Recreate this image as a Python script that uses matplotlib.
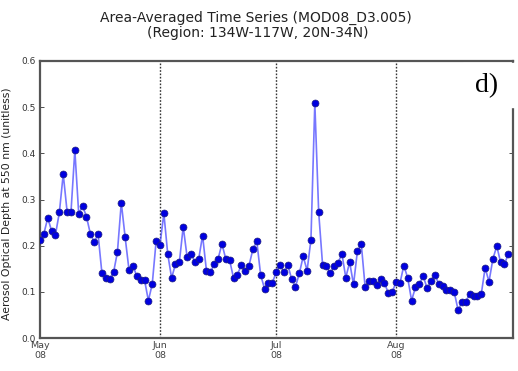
"""Area-averaged aerosol optical depth time series, May-Aug 2008 (panel d)."""

import datetime as dt

import matplotlib

matplotlib.use("Agg")
import matplotlib.pyplot as plt
from matplotlib.patches import Rectangle

# daily values, May 1 2008 onwards
may = [0.213, 0.226, 0.260, 0.232, 0.224, 0.272, 0.355, 0.274, 0.272, 0.407,
       0.269, 0.286, 0.263, 0.226, 0.208, 0.225, 0.140, 0.131, 0.127, 0.142,
       0.186, 0.293, 0.218, 0.147, 0.157, 0.134, 0.126, 0.126, 0.081, 0.117,
       0.210]
jun = [0.202, 0.270, 0.182, 0.130, 0.160, 0.164, 0.241, 0.176, 0.183, 0.165,
       0.171, 0.222, 0.146, 0.142, 0.160, 0.171, 0.204, 0.171, 0.168, 0.130,
       0.137, 0.158, 0.146, 0.157, 0.192, 0.210, 0.137, 0.107, 0.119, 0.119]
jul = [0.142, 0.159, 0.142, 0.159, 0.128, 0.111, 0.140, 0.177, 0.146, 0.213,
       0.509, 0.272, 0.159, 0.155, 0.140, 0.157, 0.163, 0.182, 0.131, 0.164,
       0.116, 0.188, 0.204, 0.110, 0.124, 0.124, 0.115, 0.128, 0.119, 0.097,
       0.099]
aug = [0.122, 0.119, 0.157, 0.130, 0.081, 0.110, 0.117, 0.134, 0.108, 0.124,
       0.137, 0.118, 0.112, 0.103, 0.103, 0.100, 0.061, 0.077, 0.079, 0.095,
       0.092, 0.090, 0.095, 0.152, 0.122, 0.171, 0.199, 0.164, 0.160, 0.182]

aod = may + jun + jul + aug
start = dt.datetime(2008, 5, 1)
dates = [start + dt.timedelta(days=i) for i in range(len(aod))]

month_ticks = [dt.datetime(2008, m, 1) for m in (5, 6, 7, 8)]
month_labels = ["May\n08", "Jun\n08", "Jul\n08", "Aug\n08"]
y_ticks = [0.0, 0.1, 0.2, 0.3, 0.4, 0.5, 0.6]

W, H = 518, 371
fig = plt.figure(figsize=(W / 100, H / 100), dpi=100)
ax = fig.add_axes([40 / W, 33 / H, 473 / W, 277 / H])

ax.plot(dates, aod, "-", color="#4a4aff", lw=1.2, alpha=0.75, zorder=2)
ax.plot(dates, aod, "o", color="#0000e0", ms=5, mec="#202080", mew=0.5,
        zorder=3)

ax.set_ylim(0, 0.6)
ax.set_xlim(start, start + dt.timedelta(days=122.2))
ax.set_yticks(y_ticks)
ax.set_yticklabels([f"{v:.1f}" for v in y_ticks])
ax.set_xticks(month_ticks)
ax.xaxis.set_major_formatter(plt.FixedFormatter(month_labels))

for d in month_ticks[1:]:
    ax.axvline(d, color="#333333", ls=(0, (1.2, 1.2)), lw=1.0, zorder=1)

ax.tick_params(axis="y", direction="in", length=3, width=0.6, right=True,
               labelsize=6.5, colors="#333333", pad=3)
ax.tick_params(axis="x", length=0, labelsize=6.8, colors="#444444", pad=2)
for s in ax.spines.values():
    s.set_color("#555555")
    s.set_linewidth(1.6)

ax.set_ylabel("Aerosol Optical Depth at 550 nm (unitless)", fontsize=7.8,
              color="#222222")
ax.yaxis.set_label_coords(-28 / 473, 0.484)

fig.text(256 / W, 1 - 18 / H, "Area-Averaged Time Series (MOD08_D3.005)",
         ha="center", va="center", fontsize=10, color="#222222")
fig.text(258 / W, 1 - 33 / H, "(Region: 134W-117W, 20N-34N)",
         ha="center", va="center", fontsize=10, color="#222222")

# panel letter in a white box over the top right corner
fig.patches.append(Rectangle((463 / W, 1 - 107 / H), 55 / W, 44 / H,
                             transform=fig.transFigure, color="white",
                             zorder=5))
fig.text(487 / W, 1 - 86 / H, "d)", ha="center", va="center", fontsize=20,
         family="Liberation Serif", zorder=6)

fig.savefig("out.png", dpi=100)
